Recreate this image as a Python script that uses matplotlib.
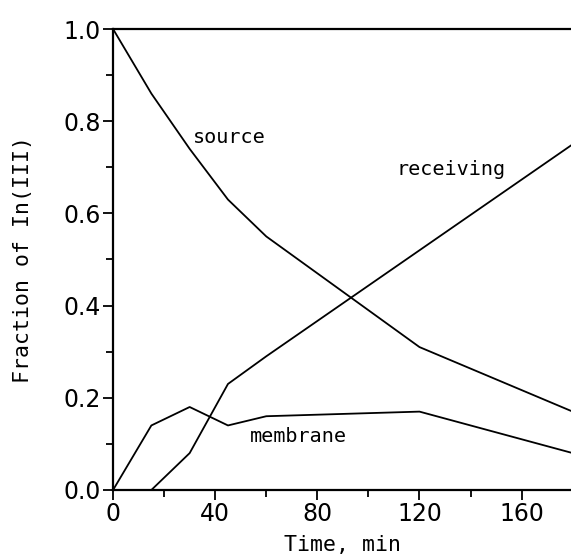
import matplotlib
matplotlib.use("Agg")
import matplotlib.pyplot as plt
from matplotlib.ticker import MultipleLocator, FormatStrFormatter

time = [0, 15, 30, 45, 60, 120, 180]
source = [1.0, 0.86, 0.74, 0.63, 0.55, 0.31, 0.17]
receiving = [0.0, 0.0, 0.08, 0.23, 0.29, 0.52, 0.75]
membrane = [0.0, 0.14, 0.18, 0.14, 0.16, 0.17, 0.08]

fig = plt.figure(figsize=(5.71, 5.58), dpi=100)
ax = fig.add_axes([0.198, 0.1219, 1.003 - 0.198, 0.948 - 0.1219])

for y in (source, receiving, membrane):
    ax.plot(time, y, color="black", lw=1.3, clip_on=False)

ax.set_xlim(0, 180)
ax.set_ylim(0, 1.0)
ax.xaxis.set_major_locator(MultipleLocator(40))
ax.xaxis.set_minor_locator(MultipleLocator(20))
ax.yaxis.set_major_locator(MultipleLocator(0.2))
ax.yaxis.set_minor_locator(MultipleLocator(0.1))
ax.yaxis.set_major_formatter(FormatStrFormatter("%.1f"))
ax.tick_params(which="major", direction="out", length=7, width=1.3,
               labelsize=17, pad=2, colors="black")
ax.tick_params(which="minor", direction="out", length=5, width=1.3)
for s in ax.spines.values():
    s.set_linewidth(1.6)

lab = dict(family="DejaVu Sans Mono", fontsize=15.5, color="black")
ax.set_xlabel("Time, min", labelpad=6, **lab)
ax.set_ylabel("Fraction of In(III)", labelpad=22, **lab)

tfont = dict(family="DejaVu Sans Mono", fontsize=14.5, color="black")
ax.text(31.3, 0.765, "source", ha="left", va="center", **tfont)
ax.text(111, 0.696, "receiving", ha="left", va="center", **tfont)
ax.text(53.5, 0.117, "membrane", ha="left", va="center", **tfont)

fig.savefig("out.png", dpi=100)
